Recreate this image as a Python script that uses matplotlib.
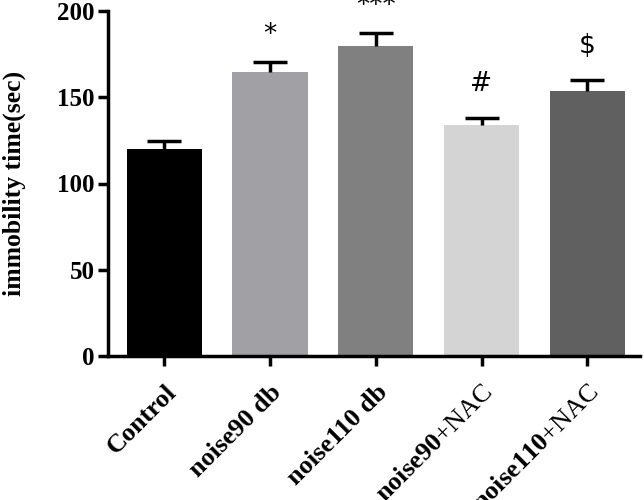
import matplotlib
matplotlib.use("Agg")
from matplotlib import pyplot as plt

groups = ["Control", "noise90 db", "noise110 db",
          "noise90$\\mathrm{+NAC}$", "noise110$\\mathrm{+NAC}$"]
means = [120, 164.5, 180, 134, 153.5]
errors = [4.5, 6, 7.5, 4, 6.5]
marks = ["", "*", "***", "#", "$"]
colors = ["#000000", "#a1a1a5", "#808080", "#d4d4d4", "#606060"]

plt.rcParams['font.family'] = ['Liberation Serif', 'DejaVu Serif']
plt.rcParams['mathtext.fontset'] = 'custom'
plt.rcParams['mathtext.rm'] = 'Liberation Serif'


def main():
    fig = plt.figure(figsize=(6.44, 5), dpi=100)
    ax = fig.add_axes([0.168, 0.288, 0.826, 0.69])

    x = range(len(groups))
    ax.bar(x, means, width=0.71, color=colors, zorder=2)
    _, caps, _ = ax.errorbar(x, means, yerr=[[0] * len(errors), errors], fmt='none',
                             ecolor='black', elinewidth=2.5, capsize=12.5,
                             capthick=2.5, zorder=3)
    caps[0].set_visible(False)

    for i, (m, e, s) in enumerate(zip(means, errors, marks)):
        if s:
            # asterisks sit high in the glyph box, pull them down a bit
            off = 10 if s.startswith("*") else 15
            ax.annotate(s.replace("$", "\\$"), (i, m + e), xytext=(0, off),
                        textcoords='offset points', ha='center', va='bottom',
                        fontsize=19, family='DejaVu Sans')

    ax.set_ylim(0, 200)
    ax.set_xlim(-0.53, 4.5)
    ax.set_yticks([0, 50, 100, 150, 200])
    ax.set_xticks(list(x))
    ax.set_xticklabels(groups, rotation=45, ha='right', rotation_mode='anchor',
                       fontsize=19, fontweight='bold')
    for t in ax.get_yticklabels():
        t.set_fontsize(18)
        t.set_fontweight('bold')

    ax.spines['top'].set_visible(False)
    ax.spines['right'].set_visible(False)
    ax.spines['left'].set_linewidth(2.5)
    ax.spines['bottom'].set_linewidth(2.5)
    ax.tick_params(width=2.5, length=7.5)
    ax.tick_params(axis='y', pad=2)
    ax.tick_params(axis='x', pad=10)

    ax.set_ylabel("immobility time(sec)", fontsize=18.5, fontweight='bold')
    ax.yaxis.set_label_coords(-0.155, 0.5)

    fig.savefig("out.png", dpi=100)


if __name__ == '__main__':
    main()
